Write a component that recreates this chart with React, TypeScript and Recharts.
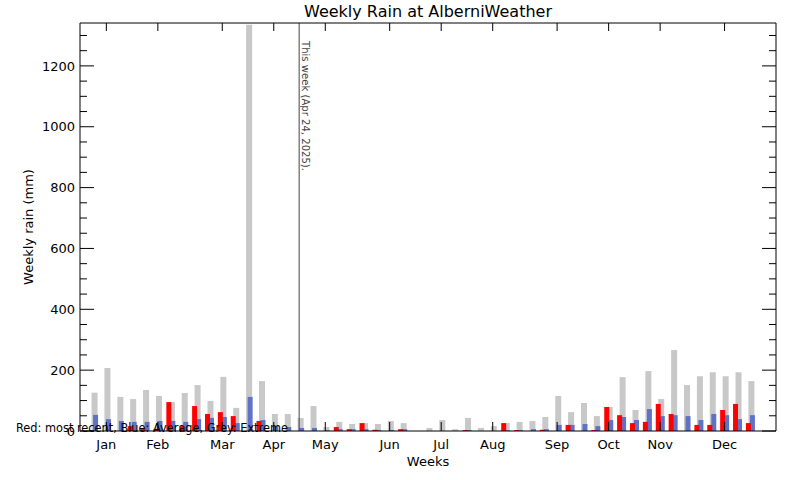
import React from 'react';
import { BarChart, Bar, XAxis, YAxis, ReferenceLine } from 'recharts';

// weekly rain, mm, week 1 .. 52 of the year
const extremeRain = [
  126, 207, 112, 105, 135, 115, 95, 125, 151, 99, 178, 76, 1335,
  164, 56, 56, 43, 82, 13, 30, 23, 26, 23, 33, 26, 0,
  10, 36, 6, 43, 10, 16, 26, 30, 33, 46, 115, 62, 92,
  49, 79, 177, 69, 197, 105, 266, 151, 180, 193, 180, 193, 164,
];
const averageRain = [
  53, 39, 33, 30, 30, 33, 33, 30, 39, 43, 46, 26, 112,
  36, 16, 13, 10, 10, 2, 6, 6, 6, 3, 3, 6, 0,
  0, 0, 0, 3, 0, 0, 2, 3, 6, 6, 20, 20, 23,
  16, 36, 46, 36, 72, 49, 52, 49, 36, 56, 52, 39, 52,
];
const recentRain = [
  3, 0, 0, 16, 7, 7, 95, 16, 82, 56, 62, 49, 0,
  33, 0, 0, 0, 0, 0, 13, 6, 26, 4, 0, 6, 0,
  0, 0, 0, 3, 0, 0, 26, 3, 0, 4, 0, 20, 0,
  3, 79, 52, 26, 30, 89, 56, 0, 20, 20, 69, 89, 26,
];

const monthLabels = ['Jan', 'Feb', 'Mar', 'Apr', 'May', 'Jun', 'Jul', 'Aug', 'Sep', 'Oct', 'Nov', 'Dec'];
const monthTickWeeks = [0.88, 4.88, 9.88, 13.88, 17.88, 22.88, 26.88, 30.88, 35.88, 39.88, 43.88, 48.88];
const rainTicks = Array.from({ length: 27 }, (_, i) => i * 50);

const THIS_WEEK = 15.85;
const X_DOMAIN: [number, number] = [-1.165, 52.875];
const RED_SHIFT = 0.272;
const BLUE_SHIFT = -0.039;
const Y_MAX = 1341;

const data = extremeRain.map((extreme, i) => ({
  week: i,
  extreme,
  average: averageRain[i],
  recent: recentRain[i],
}));

const FONT = 'DejaVu Sans';

const LeftTick = ({ x, y, payload }: any) => {
  const major = payload.value % 200 === 0;
  return (
    <g>
      <line x1={x} y1={y} x2={x + (major ? 14 : 7)} y2={y} stroke="#000" />
      {major && (
        <text x={x - 5} y={y} dy="0.36em" textAnchor="end" fontFamily={FONT} fontSize={13} fill="#000">
          {payload.value}
        </text>
      )}
    </g>
  );
};

const RightTick = ({ x, y, payload }: any) => {
  const major = payload.value % 200 === 0;
  return <line x1={x} y1={y} x2={x - (major ? 14 : 7)} y2={y} stroke="#000" />;
};

const BottomTick = ({ x, y, index }: any) => (
  <g>
    <line x1={x} y1={y} x2={x} y2={y - 9} stroke="#000" />
    <text x={x} y={y + 18} textAnchor="middle" fontFamily={FONT} fontSize={13} fill="#000">
      {monthLabels[index]}
    </text>
  </g>
);

const TopTick = ({ x, y }: any) => <line x1={x} y1={y} x2={x} y2={y + 8} stroke="#000" />;

const shift = (d: [number, number], s: number): [number, number] => [d[0] + s, d[1] + s];

export default function App() {
  return (
    <div style={{ position: 'absolute', left: 0, top: 0, width: 800, height: 480, background: '#fff' }}>
      <BarChart width={800} height={480} data={data} margin={{ top: 22, right: 23, bottom: 48, left: 79 }}>
        <XAxis
          xAxisId="main"
          dataKey="week"
          type="number"
          domain={X_DOMAIN}
          allowDataOverflow
          ticks={monthTickWeeks}
          interval={0}
          height={1}
          tickSize={0}
          tickMargin={0}
          tickLine={false}
          axisLine={{ stroke: '#000' }}
          tick={(p: any) => <BottomTick {...p} />}
        />
        <XAxis
          xAxisId="top"
          orientation="top"
          dataKey="week"
          type="number"
          domain={X_DOMAIN}
          allowDataOverflow
          ticks={monthTickWeeks}
          interval={0}
          height={1}
          tickSize={0}
          tickMargin={0}
          tickLine={false}
          axisLine={{ stroke: '#000' }}
          tick={(p: any) => <TopTick {...p} />}
        />
        <XAxis xAxisId="blue" dataKey="week" type="number" domain={shift(X_DOMAIN, BLUE_SHIFT)} allowDataOverflow height={0} hide />
        <XAxis xAxisId="red" dataKey="week" type="number" domain={shift(X_DOMAIN, RED_SHIFT)} allowDataOverflow height={0} hide />
        <YAxis
          yAxisId="left"
          type="number"
          domain={[0, Y_MAX]}
          allowDataOverflow
          ticks={rainTicks}
          interval={0}
          width={1}
          tickSize={0}
          tickMargin={0}
          tickLine={false}
          axisLine={{ stroke: '#000' }}
          tick={(p: any) => <LeftTick {...p} />}
        />
        <YAxis
          yAxisId="right"
          orientation="right"
          type="number"
          domain={[0, Y_MAX]}
          allowDataOverflow
          ticks={rainTicks}
          interval={0}
          width={1}
          tickSize={0}
          tickMargin={0}
          tickLine={false}
          axisLine={{ stroke: '#000' }}
          tick={(p: any) => <RightTick {...p} />}
        />
        <Bar xAxisId="main" yAxisId="left" dataKey="extreme" fill="#c8c8c8" barSize={6} isAnimationActive={false} />
        <Bar xAxisId="blue" yAxisId="left" dataKey="average" fill="#5f72c8" barSize={5} isAnimationActive={false} />
        <Bar xAxisId="red" yAxisId="left" dataKey="recent" fill="#ff0000" barSize={5} isAnimationActive={false} />
        <ReferenceLine
          xAxisId="main"
          yAxisId="left"
          x={THIS_WEEK}
          stroke="#444"
          label={({ viewBox }: any) => (
            <text
              transform={`translate(${viewBox.x + 3}, ${viewBox.y + 18}) rotate(90)`}
              fontFamily={FONT}
              fontSize={10}
              fill="#444"
              textLength={130}
              lengthAdjust="spacingAndGlyphs"
            >
              This week (Apr 24, 2025).
            </text>
          )}
        />
      </BarChart>
      <svg width={800} height={480} style={{ position: 'absolute', left: 0, top: 0, pointerEvents: 'none' }}>
        <text x={428} y={17} textAnchor="middle" fontFamily={FONT} fontSize={15} textLength={248} lengthAdjust="spacingAndGlyphs">
          Weekly Rain at AlberniWeather
        </text>
        <text transform="translate(33, 227) rotate(-90)" textAnchor="middle" fontFamily={FONT} fontSize={13}>
          Weekly rain (mm)
        </text>
        <text x={428} y={466} textAnchor="middle" fontFamily={FONT} fontSize={13}>
          Weeks
        </text>
        <text x={16} y={432} fontFamily={FONT} fontSize={12} textLength={272} lengthAdjust="spacingAndGlyphs">
          Red: most recent, Blue: Average, Grey: Extreme
        </text>
      </svg>
    </div>
  );
}
